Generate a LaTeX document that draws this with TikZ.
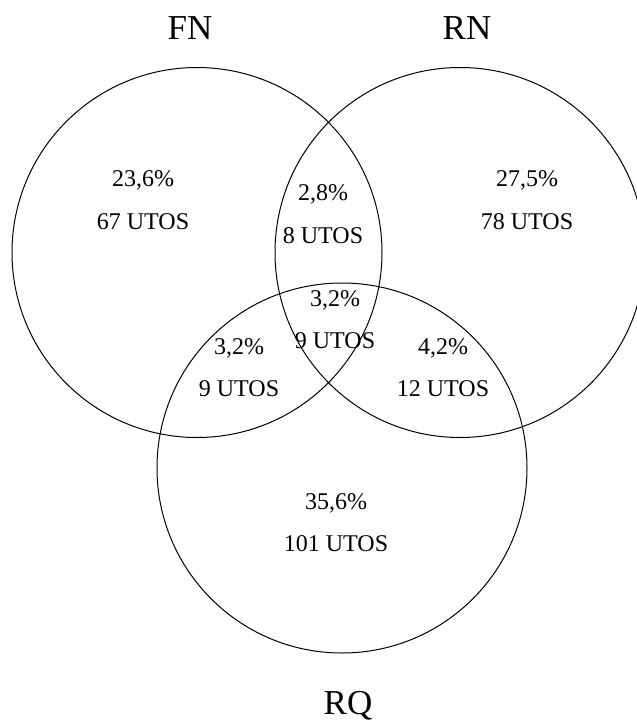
\documentclass[tikz,border=0pt]{standalone}
\usepackage{fontspec}
\setmainfont{Liberation Serif}
\tikzset{
  set/.style={draw, circle, line width=1pt, minimum size=370pt, inner sep=0pt},
  setname/.style={font=\fontsize{35}{35}\selectfont},
  share/.style={font=\fontsize{24}{24}\selectfont, text height=0.7em, text depth=0pt}
}
\begin{document}
\begin{tikzpicture}[x=1pt,y=-1pt]
  \useasboundingbox (0,0) rectangle (637,726);
  \draw
    (197,252.5) node[set] (fn){}
    (460,252.5) node[set] (rn){}
    (342,468) node[set] (rq){};
  \draw
    (190,28) node[setname] (fnname){FN}
    (467,28) node[setname] (rnname){RN}
    (348,706) node[setname] (rqname){RQ};
  % percentages and counts per region
  \draw
    (143,183) node[share] (fnpct){23,6\%}
    (143,226) node[share] (fnnum){67 UTOS}
    (323,197) node[share] (fnrnpct){2,8\%}
    (323,240) node[share] (fnrnnum){8 UTOS}
    (527,183) node[share] (rnpct){27,5\%}
    (527,226) node[share] (rnnum){78 UTOS}
    (335,303) node[share] (allpct){3,2\%}
    (335,345) node[share] (allnum){9 UTOS}
    (239,351) node[share] (fnrqpct){3,2\%}
    (239,393) node[share] (fnrqnum){9 UTOS}
    (443,351) node[share] (rnrqpct){4,2\%}
    (443,393) node[share] (rnrqnum){12 UTOS}
    (336,506) node[share] (rqpct){35,6\%}
    (336,548) node[share] (rqnum){101 UTOS};
\end{tikzpicture}
\end{document}
